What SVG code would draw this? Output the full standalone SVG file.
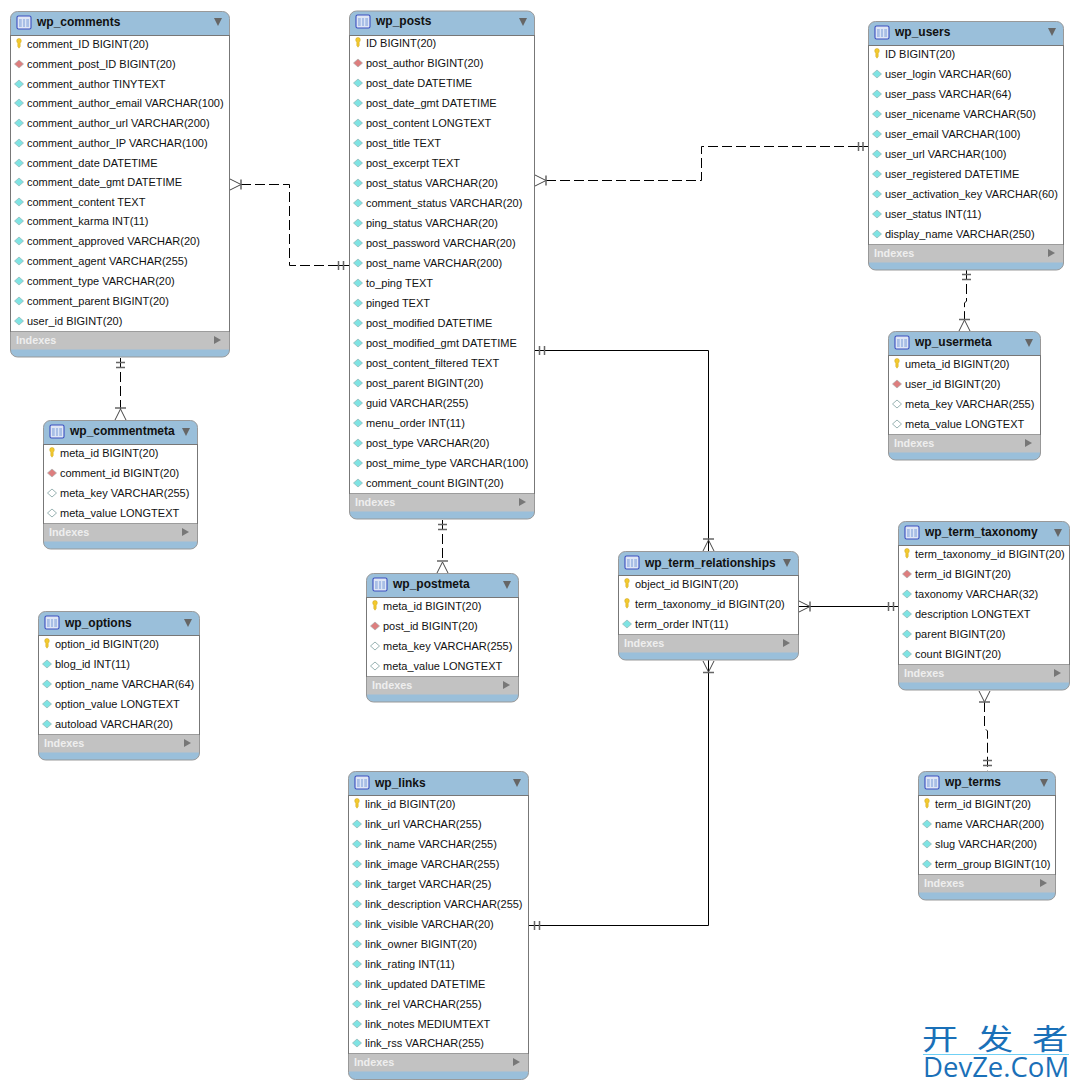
<svg xmlns="http://www.w3.org/2000/svg" width="1079" height="1089" viewBox="0 0 1079 1089">
<defs>
<style>
text{font-family:"Liberation Sans",Arial,sans-serif}
.t{font-size:11px;fill:#111}
.h{font-size:12px;font-weight:bold;fill:#111}
.ix{font-size:10.8px;font-weight:bold;fill:#eee}
.box{fill:#9abfda;stroke:#999;stroke-width:1}
.body{fill:#fff;stroke:#777;stroke-width:1}
.bar{fill:#c2c2c2}
.c{fill:none;stroke:#000;stroke-width:1}
.d{stroke-dasharray:10 4}
.m{fill:none;stroke:#444;stroke-width:1}
.b{fill:none;stroke:#666;stroke-width:1.500}
</style>
<g id="key"><path d="M-2.300-3.200a2.300 2.300 0 1 1 4.600 0c0 1.200-.7 1.800-1.100 2.400v3.400l-1.200 1.600-1.200-1.600v-3.400c-.4-.6-1.100-1.200-1.100-2.400z" fill="#f3c92e" stroke="#c9a21a" stroke-width=".5"/></g>
<g id="fk"><path d="M-4.500 0 0-4 4.500 0 0 4z" fill="#dd7e7e" stroke="#aaa" stroke-width=".7"/></g>
<g id="col"><path d="M-4.500 0 0-4 4.500 0 0 4z" fill="#7fe3e3" stroke="#8fb3b3" stroke-width=".7"/></g>
<g id="nul"><path d="M-4.500 0 0-4 4.500 0 0 4z" fill="#fff" stroke="#7f9f9f" stroke-width=".8"/></g>
<g id="tbl"><rect x="0" y="0" width="14" height="13" rx="1.500" fill="#dfe6f5" stroke="#3a4fc0" stroke-width="1.100"/><path d="M2 3h10v8H2z" fill="#a9bfe6"/><path d="M5.300 3v8M8.700 3v8" stroke="#e8eefa" stroke-width="1"/></g>
<path id="dn" d="M-4-4h8L0 4z" fill="#666"/>
<path id="rt" d="M-3.500-4v8L3.500 0z" fill="#777"/>
</defs>

<g id="connectors">
<path class="c d" d="M241 184.500H289.500V265.500H338"/><path class="c" d="M338 265.500H349"/>
<path class="m" d="M230 179 241 184.500 230 190"/><path class="b" d="M241 179.500v10M338.500 261v9M343.500 261v9"/>
<path class="c d" d="M546 180.500H701.500V146.500H856"/><path class="c" d="M856 146.500H868"/>
<path class="m" d="M535 175 546 180.500 535 186"/><path class="b" d="M546 175.500v10M858.500 142v9M863 142v9"/>
<path class="c d" d="M966.500 270V301L964.500 303V320"/>
<path class="m" d="M959 331 964.500 320 970 331"/><path class="b" d="M959 319.500h11M962 274.500h9M962 279.500h9"/>
<path class="c d" d="M120.500 358V409"/>
<path class="m" d="M115 420 120.500 409 126 420"/><path class="b" d="M115 408h11M116 362.500h9M116 367.500h9"/>
<path class="c d" d="M442.500 520V562"/>
<path class="m" d="M437 573 442.500 562 448 573"/><path class="b" d="M437 561h11M438 524.500h9M438 529.500h9"/>
<path class="c" d="M534 350.500H708.500V551"/>
<path class="m" d="M703 551 708.500 540 714 551"/><path class="b" d="M703 539h11M539.500 346v9M544.500 346v9"/>
<path class="c" d="M528 925.500H708.500V660"/>
<path class="m" d="M703 661 708.500 672 714 661"/><path class="b" d="M703 672.500h11M534.500 921v9M539.500 921v9"/>
<path class="c" d="M798 606.500H898"/>
<path class="m" d="M799 601 810 606.500 799 612"/><path class="b" d="M810 601.500v10M888.500 602v9M893.500 602v9"/>
<path class="c d" d="M984.500 702V728L987.500 731V771"/>
<path class="m" d="M979 691 984.500 702 990 691"/><path class="b" d="M979 702h11M983 760.500h9M983 765.500h9"/>
</g>

<g id="wp_comments">
<rect class="box" x="10.500" y="11.500" width="219" height="345.500" rx="7"/>
<rect class="body" x="10.500" y="35.500" width="219" height="296"/><rect class="bar" x="11" y="331.500" width="218" height="18"/>
<use href="#tbl" x="17" y="16"/><text class="h" x="37" y="26">wp_comments</text><use href="#dn" x="218" y="22"/>
<use href="#key" x="19" y="44"/><text class="t" x="27" y="48">comment_ID BIGINT(20)</text>
<use href="#fk" x="19" y="64"/><text class="t" x="27" y="68">comment_post_ID BIGINT(20)</text>
<use href="#col" x="19" y="84"/><text class="t" x="27" y="88">comment_author TINYTEXT</text>
<use href="#col" x="19" y="103"/><text class="t" x="27" y="107">comment_author_email VARCHAR(100)</text>
<use href="#col" x="19" y="123"/><text class="t" x="27" y="127">comment_author_url VARCHAR(200)</text>
<use href="#col" x="19" y="143"/><text class="t" x="27" y="147">comment_author_IP VARCHAR(100)</text>
<use href="#col" x="19" y="163"/><text class="t" x="27" y="167">comment_date DATETIME</text>
<use href="#col" x="19" y="182"/><text class="t" x="27" y="186">comment_date_gmt DATETIME</text>
<use href="#col" x="19" y="202"/><text class="t" x="27" y="206">comment_content TEXT</text>
<use href="#col" x="19" y="221"/><text class="t" x="27" y="225">comment_karma INT(11)</text>
<use href="#col" x="19" y="241"/><text class="t" x="27" y="245">comment_approved VARCHAR(20)</text>
<use href="#col" x="19" y="261"/><text class="t" x="27" y="265">comment_agent VARCHAR(255)</text>
<use href="#col" x="19" y="281"/><text class="t" x="27" y="285">comment_type VARCHAR(20)</text>
<use href="#col" x="19" y="301"/><text class="t" x="27" y="305">comment_parent BIGINT(20)</text>
<use href="#col" x="19" y="321"/><text class="t" x="27" y="325">user_id BIGINT(20)</text>
<text class="ix" x="16" y="344">Indexes</text><use href="#rt" x="217.500" y="340"/>
</g>

<g id="wp_posts">
<rect class="box" x="349.500" y="11" width="185" height="508" rx="7"/>
<rect class="body" x="349.500" y="35.500" width="185" height="458"/><rect class="bar" x="350" y="493.500" width="184" height="18"/>
<use href="#tbl" x="356" y="15"/><text class="h" x="376" y="25">wp_posts</text><use href="#dn" x="523" y="22"/>
<use href="#key" x="358" y="43"/><text class="t" x="366" y="47">ID BIGINT(20)</text>
<use href="#fk" x="358" y="63"/><text class="t" x="366" y="67">post_author BIGINT(20)</text>
<use href="#col" x="358" y="83"/><text class="t" x="366" y="87">post_date DATETIME</text>
<use href="#col" x="358" y="103"/><text class="t" x="366" y="107">post_date_gmt DATETIME</text>
<use href="#col" x="358" y="123"/><text class="t" x="366" y="127">post_content LONGTEXT</text>
<use href="#col" x="358" y="143"/><text class="t" x="366" y="147">post_title TEXT</text>
<use href="#col" x="358" y="163"/><text class="t" x="366" y="167">post_excerpt TEXT</text>
<use href="#col" x="358" y="183"/><text class="t" x="366" y="187">post_status VARCHAR(20)</text>
<use href="#col" x="358" y="203"/><text class="t" x="366" y="207">comment_status VARCHAR(20)</text>
<use href="#col" x="358" y="223"/><text class="t" x="366" y="227">ping_status VARCHAR(20)</text>
<use href="#col" x="358" y="243"/><text class="t" x="366" y="247">post_password VARCHAR(20)</text>
<use href="#col" x="358" y="263"/><text class="t" x="366" y="267">post_name VARCHAR(200)</text>
<use href="#col" x="358" y="283"/><text class="t" x="366" y="287">to_ping TEXT</text>
<use href="#col" x="358" y="303"/><text class="t" x="366" y="307">pinged TEXT</text>
<use href="#col" x="358" y="323"/><text class="t" x="366" y="327">post_modified DATETIME</text>
<use href="#col" x="358" y="343"/><text class="t" x="366" y="347">post_modified_gmt DATETIME</text>
<use href="#col" x="358" y="363"/><text class="t" x="366" y="367">post_content_filtered TEXT</text>
<use href="#col" x="358" y="383"/><text class="t" x="366" y="387">post_parent BIGINT(20)</text>
<use href="#col" x="358" y="403"/><text class="t" x="366" y="407">guid VARCHAR(255)</text>
<use href="#col" x="358" y="423"/><text class="t" x="366" y="427">menu_order INT(11)</text>
<use href="#col" x="358" y="443"/><text class="t" x="366" y="447">post_type VARCHAR(20)</text>
<use href="#col" x="358" y="463"/><text class="t" x="366" y="467">post_mime_type VARCHAR(100)</text>
<use href="#col" x="358" y="483"/><text class="t" x="366" y="487">comment_count BIGINT(20)</text>
<text class="ix" x="355" y="506">Indexes</text><use href="#rt" x="522.500" y="502"/>
</g>

<g id="wp_users">
<rect class="box" x="868.500" y="21.500" width="195" height="248.500" rx="7"/>
<rect class="body" x="868.500" y="45.500" width="195" height="199"/><rect class="bar" x="869" y="244.500" width="194" height="18"/>
<use href="#tbl" x="875" y="26"/><text class="h" x="895" y="36">wp_users</text><use href="#dn" x="1052" y="32"/>
<use href="#key" x="877" y="54"/><text class="t" x="885" y="58">ID BIGINT(20)</text>
<use href="#col" x="877" y="74"/><text class="t" x="885" y="78">user_login VARCHAR(60)</text>
<use href="#col" x="877" y="94"/><text class="t" x="885" y="98">user_pass VARCHAR(64)</text>
<use href="#col" x="877" y="114"/><text class="t" x="885" y="118">user_nicename VARCHAR(50)</text>
<use href="#col" x="877" y="134"/><text class="t" x="885" y="138">user_email VARCHAR(100)</text>
<use href="#col" x="877" y="154"/><text class="t" x="885" y="158">user_url VARCHAR(100)</text>
<use href="#col" x="877" y="174"/><text class="t" x="885" y="178">user_registered DATETIME</text>
<use href="#col" x="877" y="194"/><text class="t" x="885" y="198">user_activation_key VARCHAR(60)</text>
<use href="#col" x="877" y="214"/><text class="t" x="885" y="218">user_status INT(11)</text>
<use href="#col" x="877" y="234"/><text class="t" x="885" y="238">display_name VARCHAR(250)</text>
<text class="ix" x="874" y="257">Indexes</text><use href="#rt" x="1051.500" y="253"/>
</g>

<g id="wp_usermeta">
<rect class="box" x="888.500" y="331.500" width="152" height="128.500" rx="7"/>
<rect class="body" x="888.500" y="355.500" width="152" height="79"/><rect class="bar" x="889" y="434.500" width="151" height="18"/>
<use href="#tbl" x="895" y="336"/><text class="h" x="915" y="346">wp_usermeta</text><use href="#dn" x="1029" y="343"/>
<use href="#key" x="897" y="364"/><text class="t" x="905" y="368">umeta_id BIGINT(20)</text>
<use href="#fk" x="897" y="384"/><text class="t" x="905" y="388">user_id BIGINT(20)</text>
<use href="#nul" x="897" y="404"/><text class="t" x="905" y="408">meta_key VARCHAR(255)</text>
<use href="#nul" x="897" y="424"/><text class="t" x="905" y="428">meta_value LONGTEXT</text>
<text class="ix" x="894" y="447">Indexes</text><use href="#rt" x="1028.500" y="443"/>
</g>

<g id="wp_commentmeta">
<rect class="box" x="43.500" y="420.500" width="154" height="128.500" rx="7"/>
<rect class="body" x="43.500" y="444.500" width="154" height="79"/><rect class="bar" x="44" y="523.500" width="153" height="18"/>
<use href="#tbl" x="50" y="425"/><text class="h" x="70" y="435">wp_commentmeta</text><use href="#dn" x="186" y="432"/>
<use href="#key" x="52" y="453"/><text class="t" x="60" y="457">meta_id BIGINT(20)</text>
<use href="#fk" x="52" y="473"/><text class="t" x="60" y="477">comment_id BIGINT(20)</text>
<use href="#nul" x="52" y="493"/><text class="t" x="60" y="497">meta_key VARCHAR(255)</text>
<use href="#nul" x="52" y="513"/><text class="t" x="60" y="517">meta_value LONGTEXT</text>
<text class="ix" x="49" y="536">Indexes</text><use href="#rt" x="185.500" y="532"/>
</g>

<g id="wp_options">
<rect class="box" x="38.500" y="611.500" width="161" height="148.500" rx="7"/>
<rect class="body" x="38.500" y="635.500" width="161" height="99"/><rect class="bar" x="39" y="734.500" width="160" height="18"/>
<use href="#tbl" x="45" y="616"/><text class="h" x="65" y="627">wp_options</text><use href="#dn" x="188" y="623"/>
<use href="#key" x="47" y="644"/><text class="t" x="55" y="648">option_id BIGINT(20)</text>
<use href="#col" x="47" y="664"/><text class="t" x="55" y="668">blog_id INT(11)</text>
<use href="#col" x="47" y="684"/><text class="t" x="55" y="688">option_name VARCHAR(64)</text>
<use href="#col" x="47" y="704"/><text class="t" x="55" y="708">option_value LONGTEXT</text>
<use href="#col" x="47" y="724"/><text class="t" x="55" y="728">autoload VARCHAR(20)</text>
<text class="ix" x="44" y="747">Indexes</text><use href="#rt" x="187.500" y="743"/>
</g>

<g id="wp_postmeta">
<rect class="box" x="366.500" y="573.500" width="152" height="128.500" rx="7"/>
<rect class="body" x="366.500" y="597.500" width="152" height="79"/><rect class="bar" x="367" y="676.500" width="151" height="18"/>
<use href="#tbl" x="373" y="578"/><text class="h" x="393" y="588">wp_postmeta</text><use href="#dn" x="507" y="585"/>
<use href="#key" x="375" y="606"/><text class="t" x="383" y="610">meta_id BIGINT(20)</text>
<use href="#fk" x="375" y="626"/><text class="t" x="383" y="630">post_id BIGINT(20)</text>
<use href="#nul" x="375" y="646"/><text class="t" x="383" y="650">meta_key VARCHAR(255)</text>
<use href="#nul" x="375" y="666"/><text class="t" x="383" y="670">meta_value LONGTEXT</text>
<text class="ix" x="372" y="689">Indexes</text><use href="#rt" x="506.500" y="685"/>
</g>

<g id="wp_term_relationships">
<rect class="box" x="618.500" y="551.500" width="180" height="108.500" rx="7"/>
<rect class="body" x="618.500" y="575.500" width="180" height="59"/><rect class="bar" x="619" y="634.500" width="179" height="18"/>
<use href="#tbl" x="625" y="556"/><text class="h" x="645" y="567">wp_term_relationships</text><use href="#dn" x="787" y="563"/>
<use href="#key" x="627" y="584"/><text class="t" x="635" y="588">object_id BIGINT(20)</text>
<use href="#key" x="627" y="604"/><text class="t" x="635" y="608">term_taxonomy_id BIGINT(20)</text>
<use href="#col" x="627" y="624"/><text class="t" x="635" y="628">term_order INT(11)</text>
<text class="ix" x="624" y="647">Indexes</text><use href="#rt" x="786.500" y="643"/>
</g>

<g id="wp_term_taxonomy">
<rect class="box" x="898.500" y="521.500" width="171" height="168.500" rx="7"/>
<rect class="body" x="898.500" y="545.500" width="171" height="119"/><rect class="bar" x="899" y="664.500" width="170" height="18"/>
<use href="#tbl" x="905" y="526"/><text class="h" x="925" y="536">wp_term_taxonomy</text><use href="#dn" x="1058" y="533"/>
<use href="#key" x="907" y="554"/><text class="t" x="915" y="558">term_taxonomy_id BIGINT(20)</text>
<use href="#fk" x="907" y="574"/><text class="t" x="915" y="578">term_id BIGINT(20)</text>
<use href="#col" x="907" y="594"/><text class="t" x="915" y="598">taxonomy VARCHAR(32)</text>
<use href="#col" x="907" y="614"/><text class="t" x="915" y="618">description LONGTEXT</text>
<use href="#col" x="907" y="634"/><text class="t" x="915" y="638">parent BIGINT(20)</text>
<use href="#col" x="907" y="654"/><text class="t" x="915" y="658">count BIGINT(20)</text>
<text class="ix" x="904" y="677">Indexes</text><use href="#rt" x="1057.500" y="673"/>
</g>

<g id="wp_terms">
<rect class="box" x="918.500" y="771.500" width="137" height="128.500" rx="7"/>
<rect class="body" x="918.500" y="795.500" width="137" height="79"/><rect class="bar" x="919" y="874.500" width="136" height="18"/>
<use href="#tbl" x="925" y="776"/><text class="h" x="945" y="786">wp_terms</text><use href="#dn" x="1044" y="783"/>
<use href="#key" x="927" y="804"/><text class="t" x="935" y="808">term_id BIGINT(20)</text>
<use href="#col" x="927" y="824"/><text class="t" x="935" y="828">name VARCHAR(200)</text>
<use href="#col" x="927" y="844"/><text class="t" x="935" y="848">slug VARCHAR(200)</text>
<use href="#col" x="927" y="864"/><text class="t" x="935" y="868">term_group BIGINT(10)</text>
<text class="ix" x="924" y="887">Indexes</text><use href="#rt" x="1043.500" y="883"/>
</g>

<g id="wp_links">
<rect class="box" x="348.500" y="771.500" width="180" height="308" rx="7"/>
<rect class="body" x="348.500" y="795.500" width="180" height="258"/><rect class="bar" x="349" y="1053.500" width="179" height="18"/>
<use href="#tbl" x="355" y="776"/><text class="h" x="375" y="787">wp_links</text><use href="#dn" x="517" y="783"/>
<use href="#key" x="357" y="804"/><text class="t" x="365" y="808">link_id BIGINT(20)</text>
<use href="#col" x="357" y="824"/><text class="t" x="365" y="828">link_url VARCHAR(255)</text>
<use href="#col" x="357" y="844"/><text class="t" x="365" y="848">link_name VARCHAR(255)</text>
<use href="#col" x="357" y="864"/><text class="t" x="365" y="868">link_image VARCHAR(255)</text>
<use href="#col" x="357" y="884"/><text class="t" x="365" y="888">link_target VARCHAR(25)</text>
<use href="#col" x="357" y="904"/><text class="t" x="365" y="908">link_description VARCHAR(255)</text>
<use href="#col" x="357" y="924"/><text class="t" x="365" y="928">link_visible VARCHAR(20)</text>
<use href="#col" x="357" y="944"/><text class="t" x="365" y="948">link_owner BIGINT(20)</text>
<use href="#col" x="357" y="964"/><text class="t" x="365" y="968">link_rating INT(11)</text>
<use href="#col" x="357" y="984"/><text class="t" x="365" y="988">link_updated DATETIME</text>
<use href="#col" x="357" y="1004"/><text class="t" x="365" y="1008">link_rel VARCHAR(255)</text>
<use href="#col" x="357" y="1024"/><text class="t" x="365" y="1028">link_notes MEDIUMTEXT</text>
<use href="#col" x="357" y="1043"/><text class="t" x="365" y="1047">link_rss VARCHAR(255)</text>
<text class="ix" x="354" y="1066">Indexes</text><use href="#rt" x="516.500" y="1062"/>
</g>

<g id="watermark">
<text transform="translate(922 1050) scale(1.250 1)" font-size="29" x="0 44 88" y="0" fill="#1a70b8" style="font-family:'Noto Sans CJK SC',sans-serif">开发者</text>
<path d="M923 1054.500H1069" stroke="#6fd0f5" stroke-width="1"/>
<text x="923" y="1077" font-size="27.500" fill="#1a70b8" style="font-family:'Open Sans',sans-serif">DevZe.CoM</text>
</g>
</svg>
